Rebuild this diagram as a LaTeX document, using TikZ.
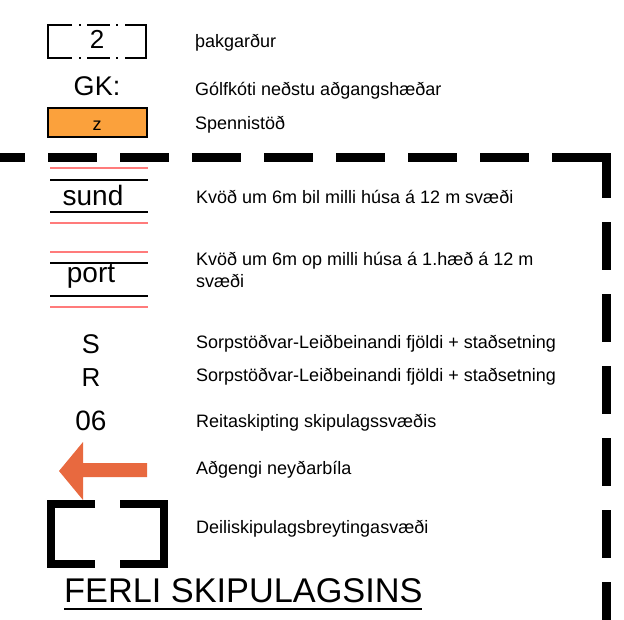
\documentclass[tikz,border=0pt]{standalone}
\usepackage{fontspec}
\setmainfont{Liberation Sans}
\begin{document}
\begin{tikzpicture}[x=1pt,y=-1pt,
  lbl/.style={anchor=base west,inner sep=0pt,font=\fontsize{18}{20}\selectfont},
  sym/.style={anchor=base,inner sep=0pt},
  thinblack/.style={line width=2pt,black},
  thinred/.style={line width=2pt,color=redline},
  bracket/.style={line width=8pt,miter limit=10}]
\definecolor{substation}{HTML}{FBA13C}
\definecolor{redline}{HTML}{FF7B7B}
\definecolor{rescue}{HTML}{E8693F}
\useasboundingbox (0,0) rectangle (624,619);

% plan boundary (heavy dashed line)
\draw[line width=9pt,dash pattern=on 49pt off 23pt] (-24,157.5) -- (530,157.5);
\draw[line width=9pt,line join=miter] (552,157.5) -- (606,157.5) -- (606,198);
\draw[line width=9pt,dash pattern=on 48pt off 24pt] (606,222) -- (606,650);

% roof garden symbol
\draw[thinblack] (72,25) -- (48,25) -- (48,58) -- (72,58);
\draw[thinblack] (125,25) -- (146,25) -- (146,58) -- (125,58);
\draw[thinblack] (87,25) -- (110,25) (87,58) -- (110,58);
\draw[thinblack] (79,25) -- (81,25) (116,25) -- (118,25)
                 (79,58) -- (81,58) (116,58) -- (118,58);
\node[sym,font=\fontsize{26}{28}\selectfont] (two) at (97,48) {2};
\node[lbl] (t1) at (195,47) {þakgarður};

% floor level
\node[sym,font=\fontsize{27}{30}\selectfont] (gk) at (97,95) {GK:};
\node[lbl] (t2) at (195,95) {Gólfkóti neðstu aðgangshæðar};

% substation
\draw[line width=2pt,fill=substation] (48,108) rectangle (147,137);
\node[sym,font=\fontsize{18}{20}\selectfont] (z) at (97,130) {z};
\node[lbl] (t3) at (195,129.5) {Spennistöð};

% passage between buildings
\draw[thinred] (50,168) -- (148,168) (50,223) -- (148,223);
\draw[thinblack] (50,180) -- (148,180) (50,212) -- (148,212);
\node[sym,font=\fontsize{28}{30}\selectfont] (sund) at (93,205) {sund};
\node[lbl] (t4) at (196,203) {Kvöð um 6m bil milli húsa á 12 m svæði};

% opening through ground floor
\draw[thinred] (50,252) -- (148,252) (50,307) -- (148,307);
\draw[thinblack] (50,263) -- (148,263) (50,296) -- (148,296);
\node[sym,font=\fontsize{28}{30}\selectfont] (port) at (91,282) {port};
\node[lbl] (t5) at (196,265) {Kvöð um 6m op milli húsa á 1.hæð á 12 m};
\node[lbl] (t5b) at (196,287) {svæði};

% waste stations
\node[sym,font=\fontsize{27}{30}\selectfont] (s) at (91,353) {S};
\node[lbl] (t6) at (196,348) {Sorpstöðvar-Leiðbeinandi fjöldi + staðsetning};
\node[sym,font=\fontsize{26}{28}\selectfont] (r) at (91,386) {R};
\node[lbl] (t7) at (196,381) {Sorpstöðvar-Leiðbeinandi fjöldi + staðsetning};

% plot numbering
\node[sym,font=\fontsize{28}{30}\selectfont] (six) at (91,430) {06};
\node[lbl] (t8) at (196,427) {Reitaskipting skipulagssvæðis};

% emergency access arrow
\fill[rescue] (147,463) -- (83,463) -- (83,442) -- (59,471) -- (83,500)
              -- (83,477) -- (147,477) -- cycle;
\node[lbl] (t9) at (196,474) {Aðgengi neyðarbíla};

% amendment area
\draw[bracket] (95,504) -- (51,504) -- (51,564) -- (95,564);
\draw[bracket] (120,504) -- (164,504) -- (164,564) -- (120,564);
\node[lbl] (t10) at (196,533) {Deiliskipulagsbreytingasvæði};

% title
\node[anchor=base west,inner sep=0pt,font=\fontsize{34.3}{36}\selectfont] (title) at (64,602) {FERLI SKIPULAGSINS};
\draw[line width=2pt] (64,609) -- (422,609);
\end{tikzpicture}
\end{document}
